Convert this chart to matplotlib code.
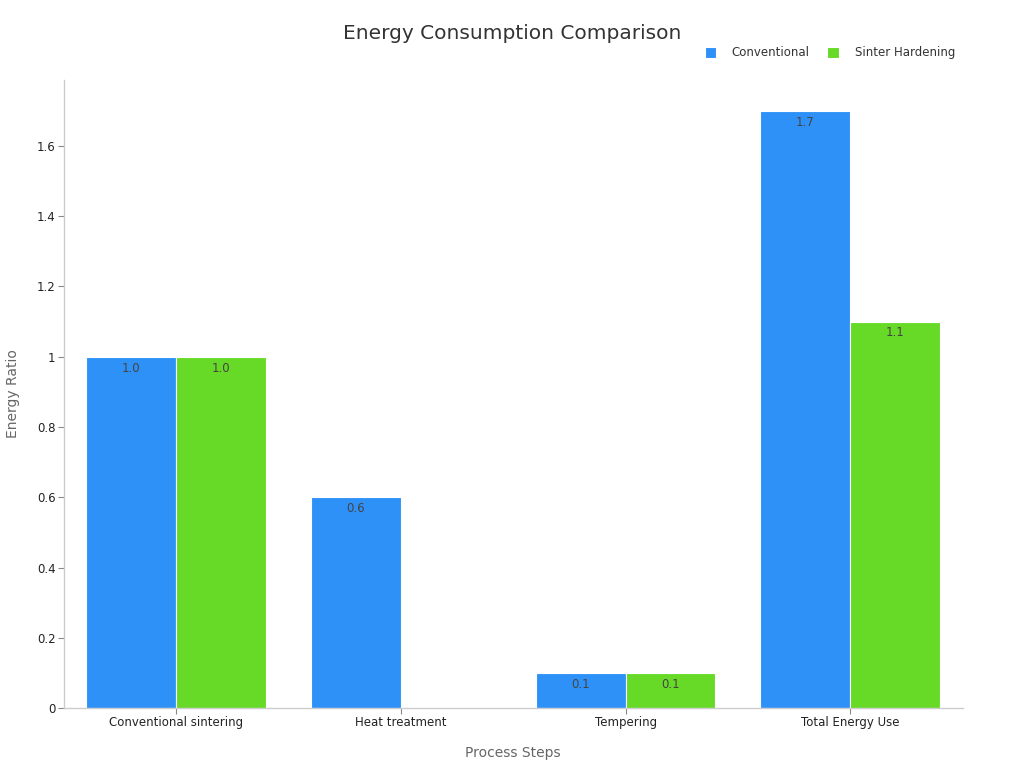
import matplotlib.pyplot as plt
import numpy as np

categories = ['Conventional sintering', 'Heat treatment', 'Tempering', 'Total Energy Use']
conventional = [1.0, 0.6, 0.1, 1.7]
sinter_hardening = [1.0, 0.0, 0.1, 1.1]
yticks = [0, 0.2, 0.4, 0.6, 0.8, 1.0, 1.2, 1.4, 1.6]
ytick_labels = ['0', '0.2', '0.4', '0.6', '0.8', '1', '1.2', '1.4', '1.6']

blue = '#2E91F8'
green = '#66DA26'
gray = '#CCCCCC'

fig = plt.figure(figsize=(10.24, 7.68), dpi=100)
ax = fig.add_axes([0.0625, 0.078, 0.8775, 0.818])

x = np.arange(len(categories))
w = 0.4
b1 = ax.bar(x - w/2, conventional, w, color=blue, edgecolor='white', linewidth=0.8, label='Conventional')
b2 = ax.bar(x + w/2, sinter_hardening, w, color=green, edgecolor='white', linewidth=0.8, label='Sinter Hardening')

# labels just inside the top of each bar
for bars, vals in ((b1, conventional), (b2, sinter_hardening)):
    for r, v in zip(bars, vals):
        if v > 0:
            ax.annotate(f'{v:.1f}', (r.get_x() + r.get_width()/2, v), xytext=(0, -3.5),
                        textcoords='offset points', ha='center', va='top',
                        fontsize=8.5, color='#444444')

ax.set_xlim(-0.5, 3.5)
ax.set_ylim(0, 1.788)
ax.set_xticks(x)
ax.set_xticklabels(categories, fontsize=8.5, color='#222222')
ax.set_yticks(yticks)
ax.set_yticklabels(ytick_labels, fontsize=8.5, color='#222222')
ax.tick_params(axis='both', color='#888888', length=4, width=0.8, pad=2)

for s in ('top', 'right'):
    ax.spines[s].set_visible(False)
for s in ('left', 'bottom'):
    ax.spines[s].set_color(gray)
    ax.spines[s].set_linewidth(1)

ax.set_xlabel('Process Steps', fontsize=10, color='#666666', labelpad=12)
ax.set_ylabel('Energy Ratio', fontsize=10, color='#666666', labelpad=12)

fig.text(0.5, 0.957, 'Energy Consumption Comparison', ha='center', va='center',
         fontsize=14.5, color='#333333')

leg = ax.legend(loc='center right', bbox_to_anchor=(0.943, 0.931), bbox_transform=fig.transFigure,
                ncol=2, frameon=False, fontsize=8.5, handlelength=1.0, handleheight=1.0,
                columnspacing=1.5, handletextpad=1.3)
for t in leg.get_texts():
    t.set_color('#333333')

fig.savefig('out.png', dpi=100)
